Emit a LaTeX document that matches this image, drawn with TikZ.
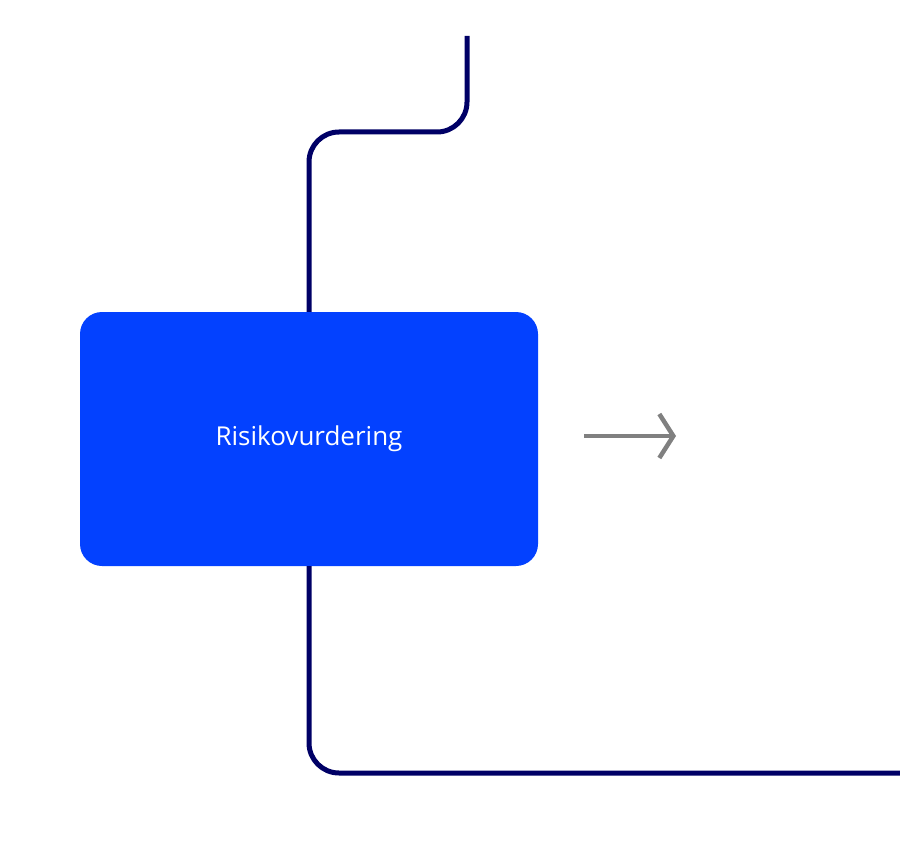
\documentclass[tikz,border=0pt]{standalone}
\usepackage{fontspec}
\setmainfont{Open Sans}
\usetikzlibrary{arrows.meta}
\definecolor{boxblue}{HTML}{0341FF}
\definecolor{navy}{HTML}{000066}
\definecolor{arrgray}{HTML}{808080}
\begin{document}
\begin{tikzpicture}[x=1pt,y=-1pt,
  box/.style={fill=boxblue,rounded corners=22pt,minimum width=458pt,minimum height=254pt,text=white,font=\fontsize{26}{30}\selectfont,inner sep=0pt},
  conn/.style={draw=navy,line width=5pt,rounded corners=30pt},
  garr/.style={draw=arrgray,line width=4.5pt,-{Straight Barb[length=14pt,width=44pt,line width=4.5pt]}}]
\useasboundingbox (0,0) rectangle (900,864);
\node[box] (r) at (309,439) {Risikovurdering};
\coordinate (t) at (467,36);
\coordinate (e) at (900,773);
\draw[conn] (t) -- (467,132) -- (309,132) -- (r.north);
\draw[conn] (r.south) -- (309,773) -- (e);
\coordinate (a1) at (584,436);
\coordinate (a2) at (676,436);
\draw[garr] (a1) -- (a2);
\end{tikzpicture}
\end{document}
